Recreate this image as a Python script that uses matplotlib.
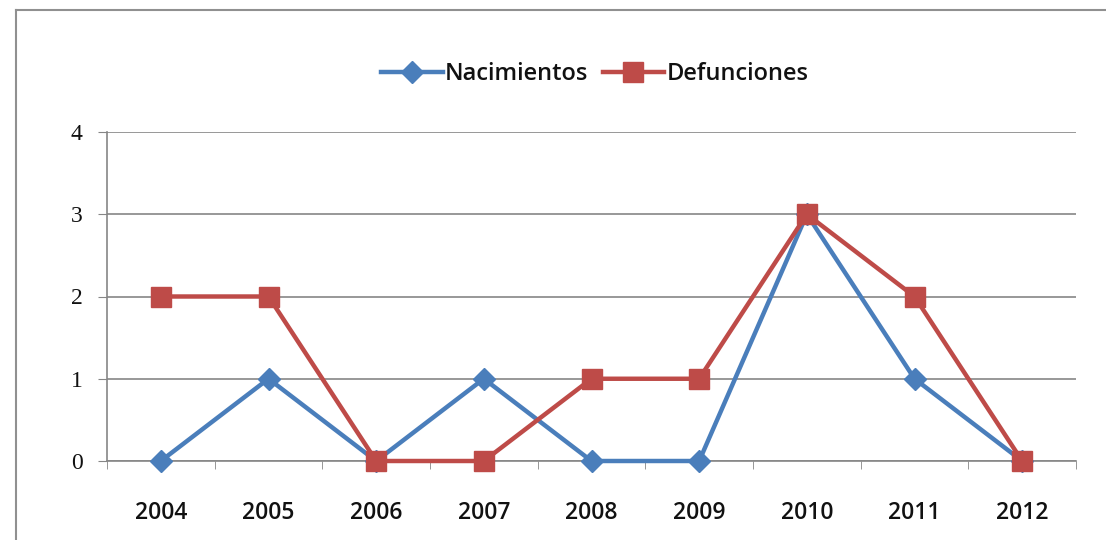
import matplotlib.pyplot as plt
from matplotlib.lines import Line2D

years = ['2004', '2005', '2006', '2007', '2008', '2009', '2010', '2011', '2012']
nacimientos = [0, 1, 0, 1, 0, 0, 3, 1, 0]
defunciones = [2, 2, 0, 0, 1, 1, 3, 2, 0]

blue = '#4a7ebb'
red = '#be4b48'
grid_gray = '#868686'

W, H = 1106, 540
fig = plt.figure(figsize=(W / 100, H / 100), dpi=100)
ax = fig.add_axes([107 / W, 1 - 461 / H, (1076 - 107) / W, (461 - 132) / H])

x = list(range(len(years)))
ax.plot(x, nacimientos, color=blue, lw=3.2, marker='D', ms=11,
        label='Nacimientos', zorder=3, clip_on=False)
ax.plot(x, defunciones, color=red, lw=3.2, marker='s', ms=14,
        label='Defunciones', zorder=3, clip_on=False)

ax.set_xlim(-0.5, len(years) - 0.5)
ax.set_ylim(0, 4)
ax.set_yticks([0, 1, 2, 3, 4])
ax.set_yticklabels(['0', '1', '2', '3', '4'], family='Liberation Serif',
                   fontsize=17, color='#111111')
ax.set_xticks(x)
ax.set_xticklabels(years, family='Open Sans', fontsize=16.5, color='#111111',
                   fontweight='semibold')
ax.set_xticks([i - 0.5 for i in range(len(years) + 1)], minor=True)
ax.tick_params(axis='x', which='major', length=0, pad=29)
ax.tick_params(axis='x', which='minor', length=6, color=grid_gray, direction='out')
ax.tick_params(axis='y', length=6.5, color=grid_gray, pad=11)

ax.grid(axis='y', color=grid_gray, lw=1.2)
for s in ['top', 'right']:
    ax.spines[s].set_visible(False)
for s in ['left', 'bottom']:
    ax.spines[s].set_color(grid_gray)
    ax.spines[s].set_linewidth(1.2)

ax.legend(loc='center', bbox_to_anchor=(595 / W, 1 - 74 / H),
          bbox_transform=fig.transFigure, ncol=2, frameon=False,
          prop={'family': 'Open Sans', 'size': 17, 'weight': 'semibold'},
          handlelength=2.6, columnspacing=0.6, handletextpad=0.1,
          labelcolor='#111111')

# chart frame (cropped at right and bottom)
fig.add_artist(Line2D([16 / W, 16 / W], [0, 1 - 10 / H], color='#909090', lw=1.5))
fig.add_artist(Line2D([16 / W, 1], [1 - 10 / H, 1 - 10 / H], color='#909090', lw=1.5))

fig.savefig('out.png', dpi=100)
